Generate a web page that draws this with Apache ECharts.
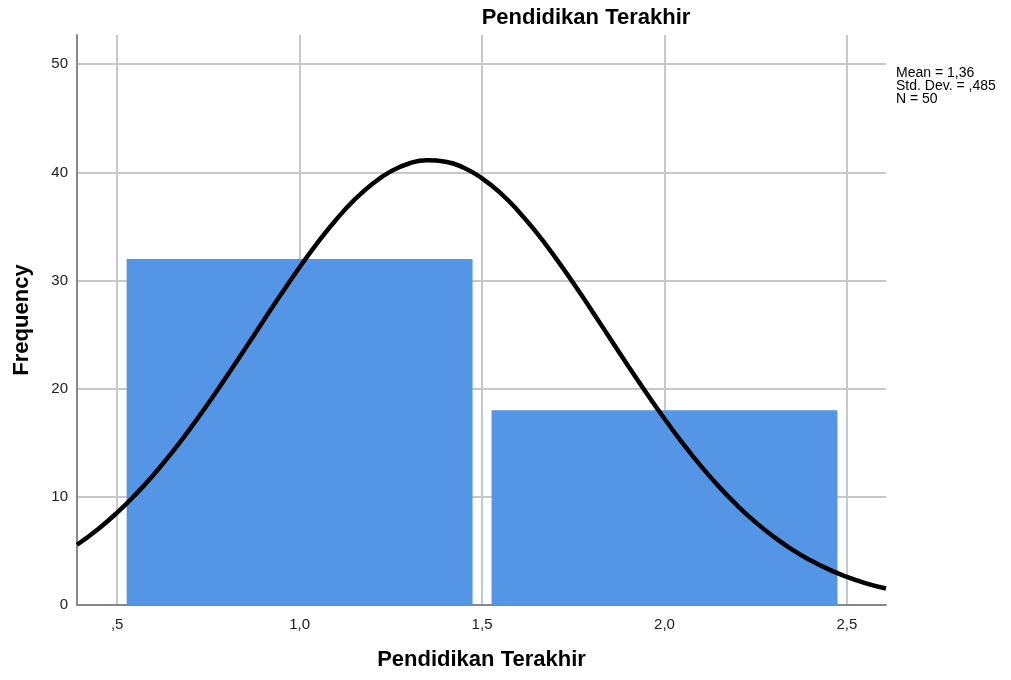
<!DOCTYPE html>
<html>
<head>
<meta charset="utf-8">
<style>html,body{margin:0;padding:0;background:#fff}#c{width:1011px;height:680px}</style>
<script src="https://cdn.jsdelivr.net/npm/echarts@6/dist/echarts.min.js"></script>
</head>
<body>
<div id="c"></div>
<script>
const titleText = "Pendidikan Terakhir";
const xName = "Pendidikan Terakhir";
const yName = "Frequency";
const statsLines = ["Mean = 1,36", "Std. Dev. = ,485", "N = 50"];
const binStart = [0.5, 1.5];
const binEnd = [1.5, 2.5];
const counts = [32, 18];
const curveX = [0.39,0.45,0.50,0.55,0.60,0.65,0.70,0.75,0.80,0.85,0.90,0.95,1.00,1.05,1.10,1.15,1.20,1.25,1.30,1.35,1.40,1.45,1.50,1.55,1.60,1.65,1.70,1.75,1.80,1.85,1.90,1.95,2.00,2.05,2.10,2.15,2.20,2.25,2.30,2.35,2.40,2.45,2.50,2.55,2.607];
const curveY = [5.57,7.08,8.54,10.20,12.05,14.09,16.30,18.65,21.12,23.66,26.23,28.77,31.23,33.53,35.62,37.45,38.95,40.09,40.82,41.12,40.99,40.43,39.45,38.10,36.39,34.40,32.17,29.77,27.26,24.69,22.13,19.63,17.22,14.95,12.84,10.92,9.18,7.64,6.29,5.12,4.13,3.29,2.60,2.03,1.52];

const chart = echarts.init(document.getElementById('c'));
const font = "'Liberation Sans', Arial, sans-serif";
function fmtX(v){
  if (Math.abs(v*2 - Math.round(v*2)) > 1e-6) return '';
  let s = v.toFixed(1).replace('.', ',');
  if (s.startsWith('0')) s = s.slice(1);
  return s;
}
chart.setOption({
  animation: false,
  grid: {left: 77, right: 125, top: 35, bottom: 75},
  graphic: [
    {type: 'text', x: 586, y: 18, style: {text: titleText, font: "bold 22px " + font, fill: '#000', align: 'center', verticalAlign: 'middle'}},
    {type: 'text', x: 896, y: 67, style: {text: statsLines.join('\n'), font: "14px " + font, fill: '#000', lineHeight: 13}}
  ],
  xAxis: {
    type: 'value', min: 0.39, max: 2.607, splitNumber: 5,
    name: xName, nameLocation: 'middle', nameGap: 44,
    nameTextStyle: {fontFamily: font, fontWeight: 'bold', fontSize: 22, color: '#000'},
    axisLine: {show: true, lineStyle: {color: '#888', width: 2}},
    axisTick: {show: false},
    axisLabel: {formatter: fmtX, fontFamily: font, fontSize: 15, color: '#222', margin: 12, showMinLabel: false, showMaxLabel: false},
    splitLine: {show: true, showMinLine: false, showMaxLine: false, lineStyle: {color: '#c8c8c8', width: 2}}
  },
  yAxis: {
    type: 'value', min: 0, max: 52.7, interval: 10,
    name: yName, nameLocation: 'middle', nameGap: 44,
    nameTextStyle: {fontFamily: font, fontWeight: 'bold', fontSize: 22, color: '#000'},
    axisLine: {show: true, lineStyle: {color: '#888', width: 2}},
    axisTick: {show: false},
    axisLabel: {formatter: v => (v % 10 === 0 ? String(v) : ''), fontFamily: font, fontSize: 15, color: '#222', margin: 9, showMaxLabel: false},
    splitLine: {show: true, showMaxLine: false, lineStyle: {color: '#c8c8c8', width: 2}}
  },
  series: [
    {
      type: 'custom',
      data: counts.map((c, i) => [binStart[i], binEnd[i], c]),
      encode: {x: [0, 1], y: 2},
      renderItem: function (params, api) {
        const p0 = api.coord([api.value(0), 0]);
        const p1 = api.coord([api.value(1), api.value(2)]);
        const inset = 9.5;
        return {
          type: 'rect',
          shape: {x: p0[0] + inset, y: p1[1], width: p1[0] - p0[0] - 2*inset, height: p0[1] - p1[1]},
          style: {fill: '#5595e5'}
        };
      },
      z: 2
    },
    {
      type: 'line',
      data: curveX.map((x, i) => [x, curveY[i]]),
      smooth: true, showSymbol: false,
      lineStyle: {color: '#000', width: 4.5, cap: 'butt'},
      clip: true, z: 3
    }
  ]
});
</script>
</body>
</html>
